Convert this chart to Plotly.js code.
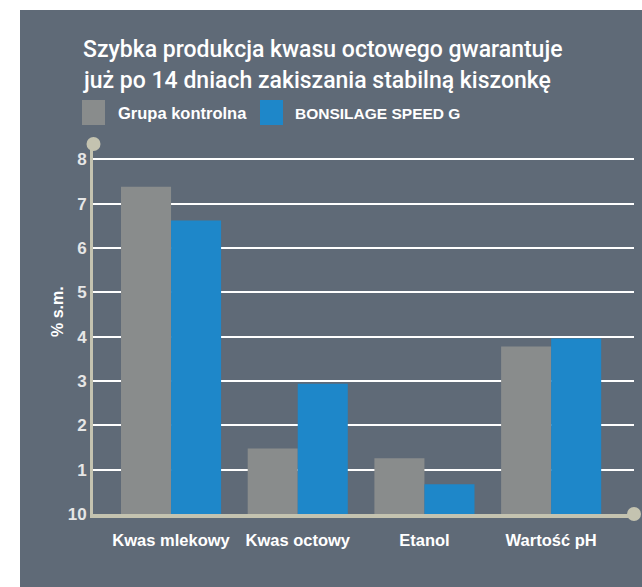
<!DOCTYPE html>
<html>
<head>
<meta charset="utf-8">
<script src="https://cdn.plot.ly/plotly-3.0.1.min.js"></script>
<style>html,body{margin:0;padding:0;background:#fff;}#chart{width:642px;height:587px;}</style>
</head>
<body>
<div id="chart"></div>
<script>
// ---- data ----
var categories = ["Kwas mlekowy", "Kwas octowy", "Etanol", "Wartość pH"];
var seriesNames = ["Grupa kontrolna", "BONSILAGE SPEED G"];
var controlValues = [7.38, 1.48, 1.26, 3.78];
var bonsilageValues = [6.62, 2.94, 0.67, 3.96];
var yTickValues = [0, 1, 2, 3, 4, 5, 6, 7, 8];
var yTickLabels = ["10", "1", "2", "3", "4", "5", "6", "7", "8"];
var titleLines = ["Szybka produkcja kwasu octowego gwarantuje", "już po 14 dniach zakiszania stabilną kiszonkę"];
var yAxisTitle = "% s.m.";

// ---- style ----
var BG = "#5f6a77", GRAY = "#898c8c", BLUE = "#1e87c9", AXIS = "#c4c3b0";
var FONT = "Liberation Sans, Arial, sans-serif";
var TFONT = "Roboto, Liberation Sans, sans-serif";
var W = 642, H = 587, ML = 93, MR = 8, MT = 146, MB = 73;
var PW = W - ML - MR, PH = H - MT - MB;
function px(x) { return (x - ML) / PW; }
function py(y) { return (H - MB - y) / PH; }

var traces = [
  {type: "bar", name: seriesNames[0], x: categories, y: controlValues, marker: {color: GRAY}, hoverinfo: "none"},
  {type: "bar", name: seriesNames[1], x: categories, y: bonsilageValues, marker: {color: BLUE}, hoverinfo: "none"}
];

var shapes = [
  {type: "rect", xref: "paper", yref: "paper", x0: px(20), x1: px(660), y0: py(600), y1: py(10), fillcolor: BG, line: {width: 0}, layer: "below"},
  {type: "rect", xref: "paper", yref: "paper", x0: px(82), x1: px(105), y0: py(125), y1: py(100), fillcolor: GRAY, line: {width: 0}},
  {type: "rect", xref: "paper", yref: "paper", x0: px(260), x1: px(283), y0: py(125), y1: py(100), fillcolor: BLUE, line: {width: 0}},
  {type: "circle", xref: "paper", yref: "paper", xsizemode: "pixel", ysizemode: "pixel", xanchor: px(93.5), yanchor: py(144), x0: -7, x1: 7, y0: -7, y1: 7, fillcolor: AXIS, line: {width: 0}},
  {type: "circle", xref: "paper", yref: "paper", xsizemode: "pixel", ysizemode: "pixel", xanchor: px(634), yanchor: py(514), x0: -7, x1: 7, y0: -7, y1: 7, fillcolor: AXIS, line: {width: 0}}
];

var annotations = [
  {xref: "paper", yref: "paper", x: px(81), y: py(50), xanchor: "left", yanchor: "middle", showarrow: false, text: titleLines[0], font: {family: TFONT, size: 23, color: "#ffffff", weight: 500}},
  {xref: "paper", yref: "paper", x: px(81), y: py(80), xanchor: "left", yanchor: "middle", showarrow: false, text: titleLines[1], font: {family: TFONT, size: 23, color: "#ffffff", weight: 500}},
  {xref: "paper", yref: "paper", x: px(116), y: py(113), xanchor: "left", yanchor: "middle", showarrow: false, text: seriesNames[0], font: {family: FONT, size: 16.5, color: "#ffffff", weight: "bold"}},
  {xref: "paper", yref: "paper", x: px(293), y: py(113), xanchor: "left", yanchor: "middle", showarrow: false, text: seriesNames[1], font: {family: FONT, size: 15.5, color: "#ffffff", weight: "bold"}},
  {xref: "paper", yref: "paper", x: px(57), y: py(312), xanchor: "center", yanchor: "middle", showarrow: false, textangle: -90, text: yAxisTitle, font: {family: FONT, size: 16, color: "#ffffff", weight: "bold"}}
];

var layout = {
  width: W, height: H,
  margin: {l: ML, r: MR, t: MT, b: MB, pad: 0},
  paper_bgcolor: "#ffffff",
  plot_bgcolor: "rgba(0,0,0,0)",
  showlegend: false,
  barmode: "group",
  bargap: 0.21,
  bargroupgap: 0,
  font: {family: FONT, color: "#ffffff"},
  xaxis: {
    type: "category",
    range: [-0.616, 3.654],
    showgrid: false, zeroline: false,
    showline: true, linecolor: AXIS, linewidth: 4,
    ticks: "", tickfont: {family: FONT, size: 16.5, color: "#ffffff", weight: "bold"},
    ticklabelstandoff: 8,
    fixedrange: true
  },
  yaxis: {
    range: [0, 8.3],
    tickvals: yTickValues, ticktext: yTickLabels,
    showgrid: true, gridcolor: "#ffffff", gridwidth: 2,
    zeroline: false,
    showline: true, linecolor: AXIS, linewidth: 3,
    ticks: "", tickfont: {family: FONT, size: 17, color: "#e6e6e6", weight: "bold"},
    ticklabelstandoff: 0,
    fixedrange: true
  },
  shapes: shapes,
  annotations: annotations
};

Plotly.newPlot("chart", traces, layout, {displayModeBar: false, staticPlot: true});
</script>
</body>
</html>
